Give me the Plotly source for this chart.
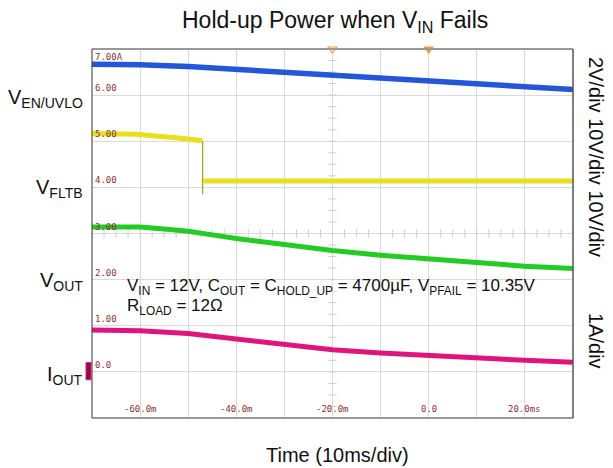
import plotly.graph_objects as go

# ---- waveform data (time in ms, vertical in scope divisions) ----
t_en = [-70, -60, -50, -40, -30, -20, -10, 0, 10, 20, 30]
v_en = [6.67, 6.66, 6.62, 6.56, 6.49, 6.43, 6.37, 6.31, 6.25, 6.19, 6.12]

t_fltb_high = [-70, -61, -52, -47.1]
v_fltb_high = [5.17, 5.15, 5.07, 5.01]
t_fltb_edge = [-47.0, -47.0]
v_fltb_edge = [5.01, 3.85]
t_fltb_low = [-46.9, 30]
v_fltb_low = [4.14, 4.14]

t_out = [-70, -60, -55, -50, -45, -40, -30, -20, -10, 0, 10, 20, 30]
v_out = [3.14, 3.14, 3.10, 3.05, 2.97, 2.89, 2.76, 2.63, 2.53, 2.45, 2.36, 2.29, 2.24]

t_iout = [-70, -60, -50, -45, -40, -35, -30, -25, -20, -10, 0, 10, 20, 30]
v_iout = [0.91, 0.89, 0.83, 0.77, 0.70, 0.64, 0.58, 0.53, 0.48, 0.41, 0.35, 0.29, 0.25, 0.21]

# grid readout labels
y_tick_vals = [7, 6, 5, 4, 3, 2, 1, 0]
y_tick_text = ["7.00A", "6.00", "5.00", "4.00", "3.00", "2.00", "1.00", "0.0"]
x_tick_vals = [-60, -40, -20, 0, 20]
x_tick_text = ["-60.0m", "-40.0m", "-20.0m", "0.0", "20.0ms"]

# channel reference markers on the left edge and trigger markers on top
ref_levels = [6.0, 4.0, 2.0]
ref_colors = ["#3a78f0", "#f2ea20", "#33dd33"]
trigger_times = [-20, 0]

X_MIN, X_MAX = -70, 30
Y_MIN, Y_MAX = -1, 7

W, H = 613, 468
ML, MR, MT, MB = 92, 40, 49, 50
PW, PH = W - ML - MR, H - MT - MB


def px(x):
    return (x - ML) / PW


def py(y):
    return (H - MB - y) / PH


fig = go.Figure()

# centre graticule minor ticks
minor_x = [X_MIN + 2.5 * i for i in range(41)]
minor_y = [Y_MIN + 0.25 * i for i in range(33)]
fig.add_trace(go.Scatter(x=minor_x, y=[3] * len(minor_x), mode="markers",
                         marker=dict(symbol="line-ns", size=6, line=dict(width=1, color="#cfcfcf")),
                         hoverinfo="skip", showlegend=False))
fig.add_trace(go.Scatter(x=[-20] * len(minor_y), y=minor_y, mode="markers",
                         marker=dict(symbol="line-ew", size=6, line=dict(width=1, color="#cfcfcf")),
                         hoverinfo="skip", showlegend=False))

# waveforms
fig.add_trace(go.Scatter(x=t_en, y=v_en, mode="lines",
                         line=dict(color="#2356d8", width=5.5), showlegend=False))
fig.add_trace(go.Scatter(x=t_fltb_edge, y=v_fltb_edge, mode="lines",
                         line=dict(color="#a8a010", width=1.2), showlegend=False))
fig.add_trace(go.Scatter(x=t_fltb_high, y=v_fltb_high, mode="lines",
                         line=dict(color="#e8e01c", width=5), showlegend=False))
fig.add_trace(go.Scatter(x=t_fltb_low, y=v_fltb_low, mode="lines",
                         line=dict(color="#e8e01c", width=5), showlegend=False))
fig.add_trace(go.Scatter(x=t_out, y=v_out, mode="lines",
                         line=dict(color="#22cc22", width=5), showlegend=False))
fig.add_trace(go.Scatter(x=t_iout, y=v_iout, mode="lines",
                         line=dict(color="#e0147c", width=5), showlegend=False))

# channel reference arrows
fig.add_trace(go.Scatter(x=[X_MIN - 0.6] * len(ref_levels), y=ref_levels, mode="markers",
                         marker=dict(symbol="triangle-right", size=7, color=ref_colors),
                         cliponaxis=False, hoverinfo="skip", showlegend=False))
fig.add_trace(go.Scatter(x=[X_MIN - 0.6], y=[6.3], mode="markers",
                         marker=dict(symbol="triangle-right", size=7, color="#3a78f0"),
                         cliponaxis=False, hoverinfo="skip", showlegend=False))

# trigger position markers
fig.add_trace(go.Scatter(x=trigger_times, y=[Y_MAX, Y_MAX], mode="markers",
                         marker=dict(symbol=["triangle-down-open", "triangle-down"], size=8,
                                     color="#f0a030", line=dict(width=1.2, color="#f0a030")),
                         cliponaxis=False, hoverinfo="skip", showlegend=False))

annotations = []
readout_font = dict(family="DejaVu Sans Mono", size=9, color="#8b3030")
for v, s in zip(y_tick_vals, y_tick_text):
    annotations.append(dict(x=X_MIN, y=v, xref="x", yref="y", text=s, showarrow=False,
                            xanchor="left", yanchor="top" if v == Y_MAX else "bottom",
                            xshift=1, yshift=-1 if v == Y_MAX else 0, font=readout_font))
for v, s in zip(x_tick_vals, x_tick_text):
    annotations.append(dict(x=v, y=Y_MIN, xref="x", yref="y", text=s, showarrow=False,
                            xanchor="center", yanchor="bottom", yshift=2, font=readout_font))

label_font = dict(family="Liberation Sans, Arial", size=20, color="#111111")
for text, ypix in [("V<sub>EN/UVLO</sub>", 99), ("V<sub>FLTB</sub>", 188),
                   ("V<sub>OUT</sub>", 281), ("I<sub>OUT</sub>", 375)]:
    annotations.append(dict(x=px(85), y=py(ypix), xref="paper", yref="paper", text=text,
                            showarrow=False, xanchor="right", yanchor="middle", font=label_font))

annotations.append(dict(x=px(335), y=py(21), xref="paper", yref="paper",
                        text="Hold-up Power when V<sub>IN</sub> Fails", showarrow=False,
                        xanchor="center", yanchor="middle",
                        font=dict(family="Liberation Sans, Arial", size=23, color="#111111")))
annotations.append(dict(x=px(337), y=py(455), xref="paper", yref="paper",
                        text="Time (10ms/div)", showarrow=False,
                        xanchor="center", yanchor="middle",
                        font=dict(family="Liberation Sans, Arial", size=20, color="#111111")))

side_font = dict(family="Liberation Sans, Arial", size=20, color="#111111")
annotations.append(dict(x=px(596), y=py(157), xref="paper", yref="paper",
                        text="2V/div 10V/div 10V/div", textangle=90, showarrow=False,
                        xanchor="center", yanchor="middle", font=side_font))
annotations.append(dict(x=px(596), y=py(341), xref="paper", yref="paper",
                        text="1A/div", textangle=90, showarrow=False,
                        xanchor="center", yanchor="middle", font=side_font))

note_font = dict(family="Liberation Sans, Arial", size=17, color="#111111")
annotations.append(dict(x=px(125), y=py(287), xref="paper", yref="paper",
                        text="V<sub>IN</sub> = 12V, C<sub>OUT</sub> = C<sub>HOLD_UP</sub> = 4700µF, "
                             "V<sub>PFAIL</sub> = 10.35V",
                        showarrow=False, xanchor="left", yanchor="middle", font=note_font))
annotations.append(dict(x=px(125), y=py(307), xref="paper", yref="paper",
                        text="R<sub>LOAD</sub> = 12Ω",
                        showarrow=False, xanchor="left", yanchor="middle", font=note_font))

shapes = [
    dict(type="line", xref="paper", yref="paper", x0=0, x1=1, y0=1, y1=1,
         line=dict(color="#999999", width=2)),
    dict(type="line", xref="paper", yref="paper", x0=0, x1=1, y0=0, y1=0,
         line=dict(color="#999999", width=2)),
    dict(type="line", xref="paper", yref="paper", x0=0, x1=0, y0=0, y1=1,
         line=dict(color="#333333", width=1)),
    dict(type="line", xref="paper", yref="paper", x0=1, x1=1, y0=0, y1=1,
         line=dict(color="#555555", width=1.5)),
    # current channel reference block
    dict(type="rect", xref="paper", yref="y", x0=px(86), x1=px(91), y0=-0.17, y1=0.2,
         fillcolor="#8a1040", line=dict(color="#e0147c", width=1)),
]

fig.update_layout(
    width=W, height=H,
    margin=dict(l=ML, r=MR, t=MT, b=MB, pad=0),
    paper_bgcolor="white", plot_bgcolor="white",
    xaxis=dict(range=[X_MIN, X_MAX], dtick=10, tick0=X_MIN, showgrid=True,
               gridcolor="#dadada", gridwidth=1, zeroline=False, showticklabels=False,
               showline=False, ticks=""),
    yaxis=dict(range=[Y_MIN, Y_MAX], dtick=1, tick0=Y_MIN, showgrid=True,
               gridcolor="#dadada", gridwidth=1, zeroline=False, showticklabels=False,
               showline=False, ticks=""),
    annotations=annotations,
    shapes=shapes,
    showlegend=False,
)

fig.write_html("out.html")
